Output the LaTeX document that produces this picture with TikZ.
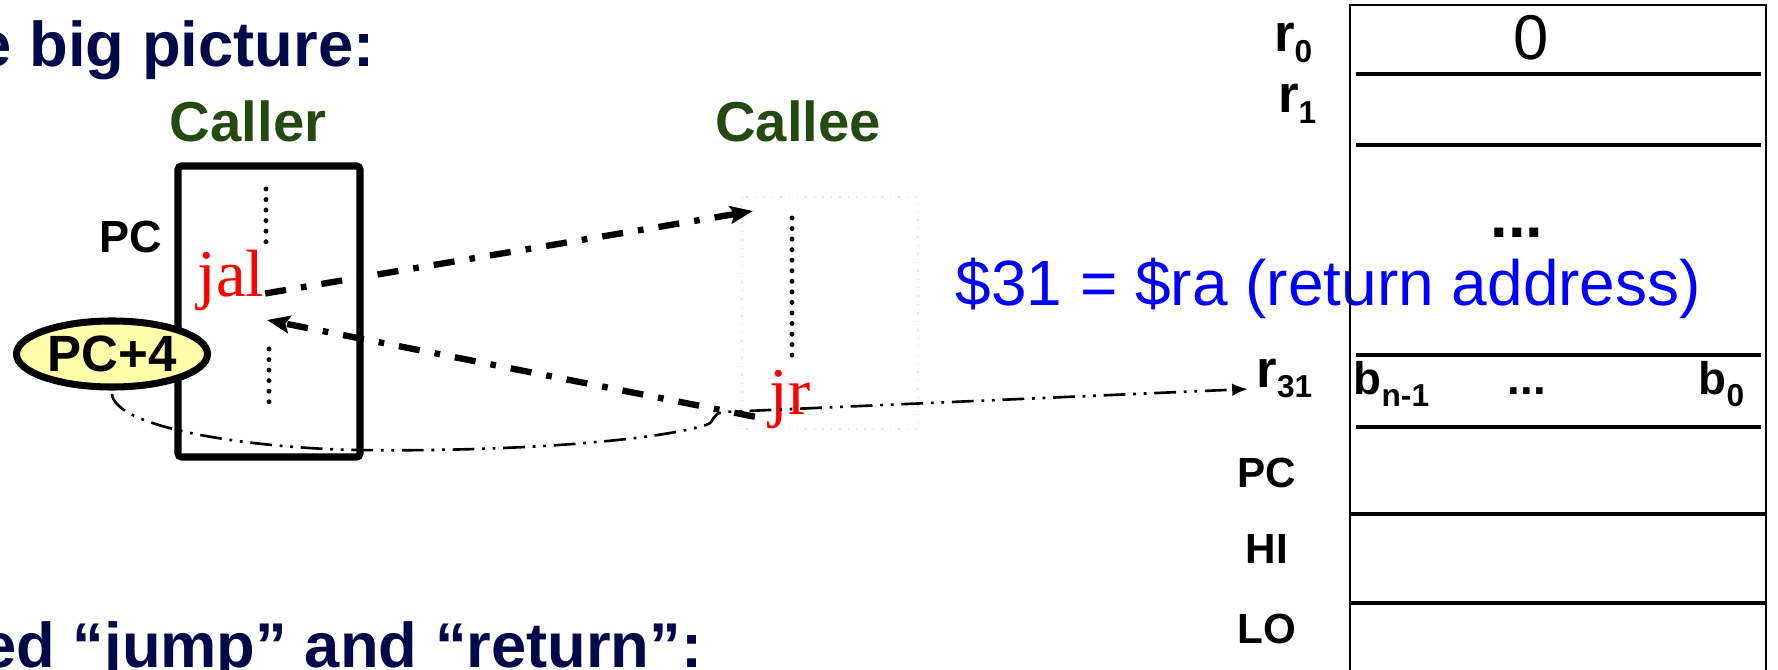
\documentclass[tikz,border=0pt]{standalone}
\usepackage{fontspec}
\setmainfont{Liberation Sans}
\newfontfamily\codefont{Liberation Serif}
\usetikzlibrary{arrows.meta, shapes.geometric, positioning}

\definecolor{titlenavy}{RGB}{0,10,75}
\definecolor{rolegreen}{RGB}{34,74,17}
\definecolor{pcyellow}{RGB}{255,252,170}

\newcommand{\fsz}[1]{\fontsize{#1}{#1}\selectfont}
\newcommand{\regr}[1]{{\fsz{15}r}\raisebox{-3pt}{\fsz{9}#1}}
\newcommand{\bitb}[1]{{\fsz{13}b}\raisebox{-3.4pt}{\fsz{9}#1}}

\tikzstyle{headline}  = [inner sep=0, text=titlenavy, font=\bfseries\fsz{18}]
\tikzstyle{role}      = [inner sep=0, text=rolegreen, font=\bfseries\fsz{16}]
\tikzstyle{instr}     = [inner sep=0, text=red, font=\codefont\fsz{19}]
\tikzstyle{reglabel}  = [inner sep=0, font=\bfseries\fsz{12}]
\tikzstyle{dotcol}    = [line width=1.4pt, line cap=round, dash pattern=on 0pt off 3pt]
\tikzstyle{callarrow} = [line width=1.8pt, -{Stealth[length=6.5pt, width=5pt, inset=1.2pt]},
                         dash pattern=on 6pt off 4.3pt on 1.6pt off 4.3pt]
\tikzstyle{linkarrow} = [line width=0.75pt, -{Latex[length=4.5pt, width=3.6pt]},
                         dash pattern=on 6.2pt off 2.2pt on 0.8pt off 2.2pt on 0.8pt off 2.2pt]

\begin{document}
\begin{tikzpicture}[x=0.01cm, y=-0.01cm]
\useasboundingbox (0,0) rectangle (1778,670);
\clip (0,0) rectangle (1778,670);

% headings
\node[headline, anchor=base east] (head1) at (375,67) {e big picture:};
\node[headline, anchor=base east] (head2) at (703,667) {ed “jump” and “return”:};

% caller
\node[role, anchor=base] (caller) at (248,142) {Caller};
\draw[line width=2pt, rounded corners=1pt] (178,166) rectangle (360,457);
\node[reglabel, font=\bfseries\fsz{12.8}, anchor=base] (pc) at (131,252) {PC};
\draw[dotcol] (266,189) -- (266,244);
\draw[dotcol] (269,349) -- (269,404);
\node[instr, anchor=base west] (jal) at (197,297) {jal};

% callee
\node[role, anchor=base] (callee) at (798,142) {Callee};
\draw[gray!20, dotted] (742,197) rectangle (918,429);
\draw[dotcol] (792,218) -- (792,360);
\node[instr, anchor=base west] (jr) at (769,415) {jr};

\coordinate (calleein) at (753,211);
\coordinate (retin) at (267,320);
\coordinate (rain) at (1248,389);

\draw[callarrow] ([yshift=1pt]jal.base east) -- (calleein);
\draw[callarrow] ([xshift=-4pt, yshift=-0.5pt]jr.base west) -- (retin);

% link register
\node[draw, line width=2pt, fill=pcyellow, ellipse, minimum width=1.91cm, minimum height=0.66cm,
      inner sep=0, font=\bfseries\fsz{14.5}] (pc4) at (112,354) {PC+4};
\draw[linkarrow] ([yshift=-1pt]pc4.south) .. controls (115,428) and (250,448) .. (357,450)
   .. controls (500,452) and (650,442) .. (706,425)
   .. controls (716,422) and (710,414) .. (724,412) -- (rain);

\node[inner sep=0, text=blue, font=\fsz{18.2}, anchor=base west] (ranote) at (955,305) {\$31 = \$ra (return address)};

% register file
\draw[line width=0.75pt] (1350,690) -- (1350,5) -- (1766,5) -- (1766,690);
\foreach \y in {74,145,355,427}
  \draw[line width=1pt] (1356,\y) -- (1761,\y);
\foreach \y in {514,603}
  \draw[line width=1pt] (1350,\y) -- (1766,\y);

\node[inner sep=0, font=\fsz{18}, anchor=base] (zero) at (1531,60) {0};
\node[inner sep=0, font=\bfseries\fsz{18}, anchor=base] (mid) at (1517,238) {...};
\node[inner sep=0, font=\bfseries, anchor=base east] (r0) at (1313,52) {\regr{0}};
\node[inner sep=0, font=\bfseries, anchor=base east] (r1) at (1317,113) {\regr{1}};
\node[inner sep=0, font=\bfseries, anchor=base east] (r31) at (1313,387) {\regr{31}};
\node[inner sep=0, font=\bfseries, anchor=base west] (bhi) at (1353,395) {\bitb{n-1}};
\node[inner sep=0, font=\bfseries\fsz{13}, anchor=base] (bdots) at (1527,395) {...};
\node[inner sep=0, font=\bfseries, anchor=base east] (blo) at (1745,395) {\bitb{0}};

\node[reglabel, anchor=base] (pcreg) at (1267,487) {PC};
\node[reglabel, anchor=base] (hireg) at (1267,563) {HI};
\node[reglabel, anchor=base] (loreg) at (1267,643) {LO};

\end{tikzpicture}
\end{document}
